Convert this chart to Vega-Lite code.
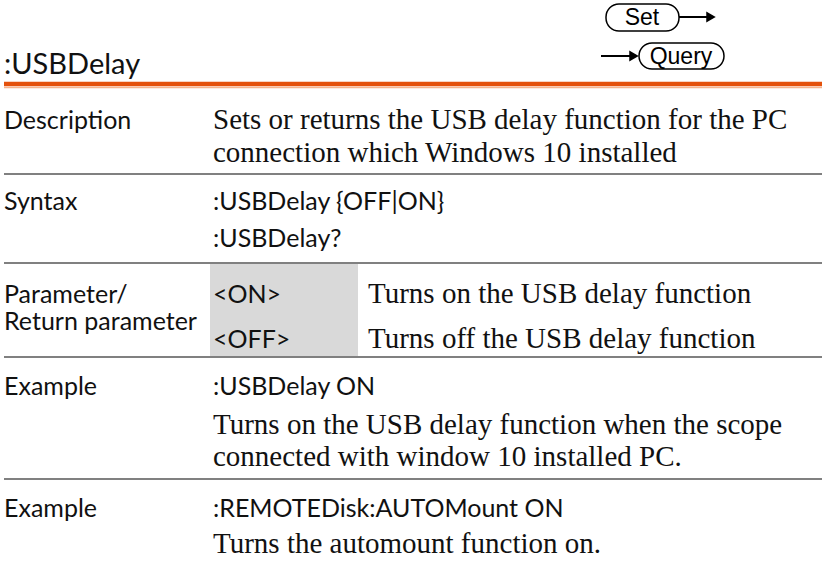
{
  "$schema": "https://vega.github.io/schema/vega-lite/v6.json",
  "width": 822,
  "height": 570,
  "padding": 0,
  "autosize": {"type": "none"},
  "config": {"view": {"stroke": null}, "axis": {"disable": true}},
  "datasets": {
    "texts": [
      {"role": "title", "col": 0, "line": -1, "text": ":USBDelay"},
      {"role": "label", "col": 0, "line": 1, "text": "Description"},
      {"role": "prose", "col": 1, "line": 1, "text": "Sets or returns the USB delay function for the PC"},
      {"role": "prose", "col": 1, "line": 2, "text": "connection which Windows 10 installed"},
      {"role": "label", "col": 0, "line": 3, "text": "Syntax"},
      {"role": "command", "col": 1, "line": 3, "text": ":USBDelay {OFF|ON}"},
      {"role": "command", "col": 1, "line": 4, "text": ":USBDelay?"},
      {"role": "label", "col": 0, "line": 5, "text": "Parameter/"},
      {"role": "label", "col": 0, "line": 5.6, "text": "Return parameter"},
      {"role": "command", "col": 1, "line": 5, "text": "<ON>"},
      {"role": "prose", "col": 2, "line": 5, "text": "Turns on the USB delay function"},
      {"role": "command", "col": 1, "line": 6, "text": "<OFF>"},
      {"role": "prose", "col": 2, "line": 6, "text": "Turns off the USB delay function"},
      {"role": "label", "col": 0, "line": 7, "text": "Example"},
      {"role": "command", "col": 1, "line": 7, "text": ":USBDelay ON"},
      {"role": "prose", "col": 1, "line": 8, "text": "Turns on the USB delay function when the scope"},
      {"role": "prose", "col": 1, "line": 9, "text": "connected with window 10 installed PC."},
      {"role": "label", "col": 0, "line": 10, "text": "Example"},
      {"role": "command", "col": 1, "line": 10, "text": ":REMOTEDisk:AUTOMount ON"},
      {"role": "prose", "col": 1, "line": 11, "text": "Turns the automount function on."}
    ],
    "separators": [
      {"col": 0, "col2": 3, "line": 2.5},
      {"col": 0, "col2": 3, "line": 4.5},
      {"col": 0, "col2": 3, "line": 6.5},
      {"col": 0, "col2": 3, "line": 9.5}
    ],
    "buttons": [
      {"text": "Set", "col": 2.2, "col2": 2.6, "line": -3.3, "line2": -2.7, "tcol": 2.5, "tline": -3},
      {"text": "Query", "col": 2.4, "col2": 2.9, "line": -2.3, "line2": -1.7, "tcol": 2.7, "tline": -2}
    ],
    "arrows": [
      {"name": "Set", "col": 2.6, "col2": 2.8, "line": -3},
      {"name": "Query", "col": 2.1, "col2": 2.3, "line": -2}
    ]
  },
  "encoding": {
    "x": {"field": "col", "type": "quantitative", "scale": {"type": "linear", "zero": false, "nice": false, "domain": [0, 0.9, 1, 1.9, 2, 2.1, 2.2, 2.3, 2.4, 2.5, 2.6, 2.7, 2.8, 2.9, 3], "range": [4, 210, 213, 358, 368, 601, 606, 634, 639, 642, 679, 681, 711, 724, 822]}},
    "y": {"field": "line", "type": "quantitative", "scale": {"type": "linear", "zero": false, "nice": false, "domain": [-3.3, -3, -2.7, -2.3, -2, -1.7, -1, -0.5, -0.4, 1, 2, 2.5, 3, 4, 4.5, 5, 5.6, 6, 6.5, 7, 8, 9, 9.5, 10, 11], "range": [4, 17, 31, 43, 56, 69, 74, 84, 87.5, 129, 162, 174, 210, 247, 263, 303, 330, 348, 357, 395, 434, 466, 479, 517, 553]}}
  },
  "layer": [
    {
      "data": {"values": [{"col": 0.9, "col2": 1.9, "line": 4.5, "line2": 6.5}]},
      "mark": {"type": "rect", "fill": "#d9d9d9"},
      "encoding": {"x2": {"field": "col2"}, "y2": {"field": "line2"}}
    },
    {
      "data": {"values": [{"col": 0, "col2": 3, "line": -0.5}]},
      "mark": {"type": "rule", "stroke": "#e4510c", "strokeWidth": 4.5},
      "encoding": {"x2": {"field": "col2"}}
    },
    {
      "data": {"values": [{"col": 0, "col2": 3, "line": -0.4}]},
      "mark": {"type": "rule", "stroke": "#f6b48e", "strokeWidth": 1.5},
      "encoding": {"x2": {"field": "col2"}}
    },
    {
      "data": {"name": "separators"},
      "mark": {"type": "rule", "stroke": "#808080", "strokeWidth": 2},
      "encoding": {"x2": {"field": "col2"}}
    },
    {
      "data": {"name": "buttons"},
      "mark": {"type": "rect", "fill": "#ffffff", "stroke": "#000000", "strokeWidth": 1.5, "cornerRadius": 13},
      "encoding": {"x2": {"field": "col2"}, "y2": {"field": "line2"}}
    },
    {
      "data": {"name": "buttons"},
      "mark": {"type": "text", "font": "Liberation Sans", "fontSize": 23, "align": "center", "baseline": "middle", "dy": 1, "color": "#000000"},
      "encoding": {
        "x": {"field": "tcol", "type": "quantitative"},
        "y": {"field": "tline", "type": "quantitative"},
        "text": {"field": "text"}
      }
    },
    {
      "data": {"name": "arrows"},
      "mark": {"type": "rule", "stroke": "#000000", "strokeWidth": 2},
      "encoding": {"x2": {"field": "col2"}}
    },
    {
      "data": {"name": "arrows"},
      "mark": {"type": "point", "shape": "triangle-right", "size": 120, "filled": true, "color": "#000000", "opacity": 1},
      "encoding": {"x": {"field": "col2", "type": "quantitative"}}
    },
    {
      "data": {"name": "texts"},
      "transform": [{"filter": "datum.role === 'title'"}],
      "mark": {"type": "text", "font": "Lato", "fontSize": 29, "align": "left", "baseline": "alphabetic", "color": "#111111"},
      "encoding": {"text": {"field": "text"}}
    },
    {
      "data": {"name": "texts"},
      "transform": [{"filter": "datum.role === 'label' || datum.role === 'command'"}],
      "mark": {"type": "text", "font": "Lato", "fontSize": 25, "align": "left", "baseline": "alphabetic", "color": "#111111"},
      "encoding": {"text": {"field": "text"}}
    },
    {
      "data": {"name": "texts"},
      "transform": [{"filter": "datum.role === 'prose'"}],
      "mark": {"type": "text", "font": "Liberation Serif", "fontSize": 29, "align": "left", "baseline": "alphabetic", "color": "#111111"},
      "encoding": {"text": {"field": "text"}}
    }
  ]
}
